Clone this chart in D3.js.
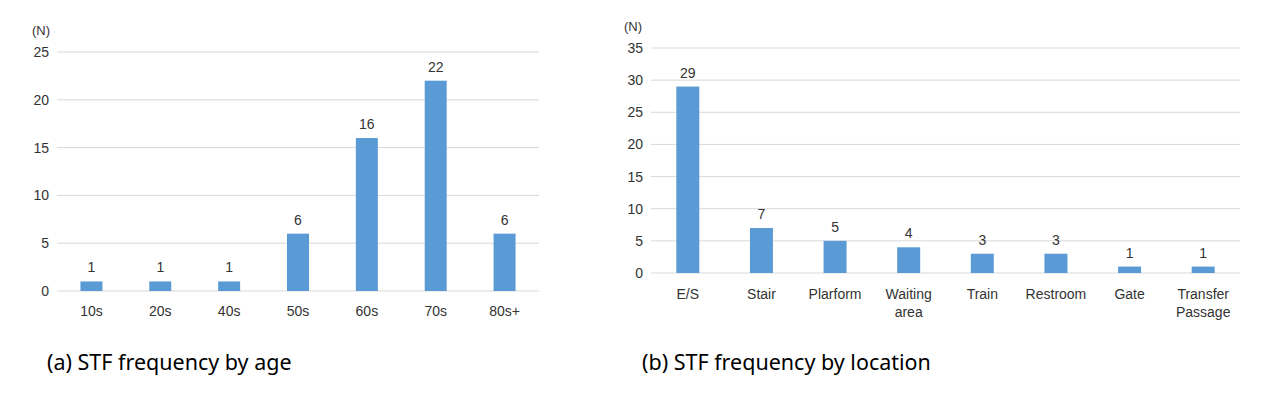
<!DOCTYPE html>
<html><head><meta charset="utf-8">
<script src="https://cdn.jsdelivr.net/npm/d3@7"></script>
<style>body{margin:0;background:#fff}svg{display:block}</style>
</head><body>
<svg id="c" width="1271" height="397"></svg>
<script>
const ageCats = ["10s","20s","40s","50s","60s","70s","80s+"];
const ageVals = [1,1,1,6,16,22,6];
const ageTicks = [0,5,10,15,20,25];
const locCats = ["E/S","Stair","Plarform","Waiting area","Train","Restroom","Gate","Transfer Passage"];
const locVals = [29,7,5,4,3,3,1,1];
const locTicks = [0,5,10,15,20,25,30,35];
const captions = ["(a) STF frequency by age","(b) STF frequency by location"];

const svg = d3.select("#c");
const font = "'Liberation Sans', Arial, sans-serif";
const txt = "#333333";

function panel(cfg){
  const g = svg.append("g");
  const x = d3.scaleBand().domain(cfg.cats).range([cfg.x0, cfg.x1]).paddingInner(0).paddingOuter(0);
  const y = d3.scaleLinear().domain([0, cfg.max]).range([cfg.y0, cfg.y1]);
  g.selectAll("line.grid").data(cfg.ticks).join("line")
    .attr("x1", cfg.x0).attr("x2", cfg.x1)
    .attr("y1", d=>y(d)).attr("y2", d=>y(d))
    .attr("stroke", "#d9d9d9").attr("stroke-width", 1);
  const ya = d3.axisLeft(y).tickValues(cfg.ticks).tickSize(0).tickPadding(0);
  const yg = g.append("g").attr("transform", `translate(${cfg.x0-8},0)`).call(ya);
  yg.select(".domain").remove();
  yg.selectAll("text").attr("font-family", font).attr("font-size", 14).attr("fill", txt);
  g.selectAll("rect").data(cfg.vals).join("rect")
    .attr("x", (d,i)=>x(cfg.cats[i]) + x.bandwidth()/2 - cfg.bw/2)
    .attr("width", cfg.bw)
    .attr("y", d=>y(d)).attr("height", d=>y(0)-y(d))
    .attr("fill", "#5b9bd5");
  g.selectAll("text.v").data(cfg.vals).join("text").attr("class","v")
    .attr("x", (d,i)=>x(cfg.cats[i]) + x.bandwidth()/2)
    .attr("y", d=>y(d)-9)
    .attr("text-anchor","middle").attr("font-family", font).attr("font-size", 14).attr("fill",txt)
    .text(d=>d);
  const xa = d3.axisBottom(x).tickSize(0).tickPadding(0);
  const xg = g.append("g").attr("transform", `translate(0,${cfg.y0})`).call(xa);
  xg.select(".domain").remove();
  xg.selectAll("text").each(function(d){
    const t = d3.select(this);
    t.text(null).attr("font-family", font).attr("font-size", 14).attr("fill",txt).attr("dy", null).attr("y", 0);
    const words = cfg.wrap && d.includes(" ") ? d.split(" ") : [d];
    words.forEach((w,k)=>{
      t.append("tspan").attr("x",0).attr("y", cfg.lo + k*18).text(w);
    });
  });
  g.append("text").attr("x", cfg.nx).attr("y", cfg.ny).attr("font-family", font).attr("font-size", 13).attr("fill",txt).text("(N)");
  g.append("text").attr("x", cfg.cx).attr("y", 370).attr("font-family", "'Noto Sans', 'Open Sans', sans-serif").attr("font-size", 21.5).attr("fill","#000").text(cfg.caption);
}

panel({cats: ageCats, vals: ageVals, ticks: ageTicks, max: 25, x0: 57, x1: 539, y0: 291, y1: 52, bw: 22, nx: 32, ny: 35, cx: 47, lo: 25, caption: captions[0], wrap:false});
panel({cats: locCats, vals: locVals, ticks: locTicks, max: 35, x0: 651, x1: 1240, y0: 273, y1: 48, bw: 23, nx: 624, ny: 31, cx: 642, lo: 26, caption: captions[1], wrap:true});
</script>
</body></html>
